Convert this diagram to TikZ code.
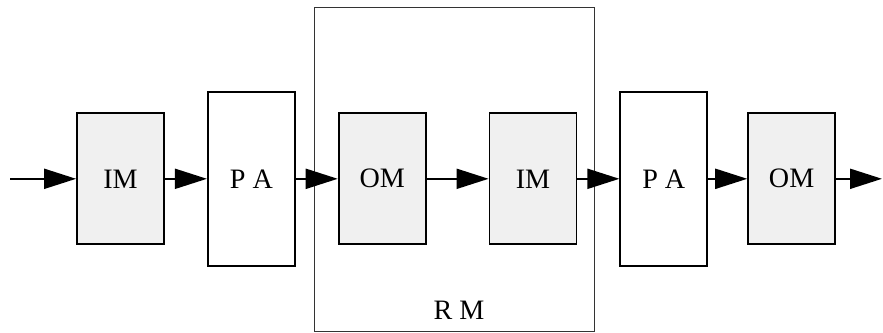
\documentclass[tikz,border=0pt]{standalone}
\usepackage{fontspec}
\setmainfont{Liberation Serif}
\usepackage{tikz}
\usetikzlibrary{arrows.meta, positioning}

\begin{document}
\begin{tikzpicture}[
  font=\fontsize{20}{24}\selectfont,
  modbox/.style={draw, line width=1.3pt, minimum width=2.175cm, minimum height=3.275cm, align=center, fill=gray!12},
  ampbox/.style={draw, line width=1.3pt, minimum width=2.175cm, minimum height=4.35cm, align=center, fill=white},
  group/.style={draw=black!80, line width=0.6pt, minimum width=7.0cm, minimum height=8.1cm},
  arr/.style={-{Triangle[length=0.8cm, width=0.5cm]}, line width=1.4pt}
]
\useasboundingbox (0,0) rectangle (22.075,-8.3);

\node[group] (rm) at (11.35,-4.225) {};
\node[above=0.17cm of rm.south, xshift=0.125cm] (rmlabel) {R M};

\node[modbox] (im1) at (3.0125,-4.47) {IM};
\node[ampbox, right=1.05cm of im1] (pa1) {P A};
\node[modbox, right=1.05cm of pa1] (om1) {OM};
\node[modbox, right=1.55cm of om1] (im2) {IM};
\node[ampbox, right=1.05cm of im2] (pa2) {P A};
\node[modbox, right=0.975cm of pa2] (om2) {OM};

\coordinate (in) at (0.25,-4.47);
\coordinate (out) at (22.05,-4.47);

\draw[arr] (in) -- (im1.west);
\draw[arr] (im1.east) -- (pa1.west);
\draw[arr] (pa1.east) -- (om1.west);
\draw[arr] (om1.east) -- (im2.west);
\draw[arr] (im2.east) -- (pa2.west);
\draw[arr] (pa2.east) -- (om2.west);
\draw[arr] (om2.east) -- (out);

\end{tikzpicture}
\end{document}
